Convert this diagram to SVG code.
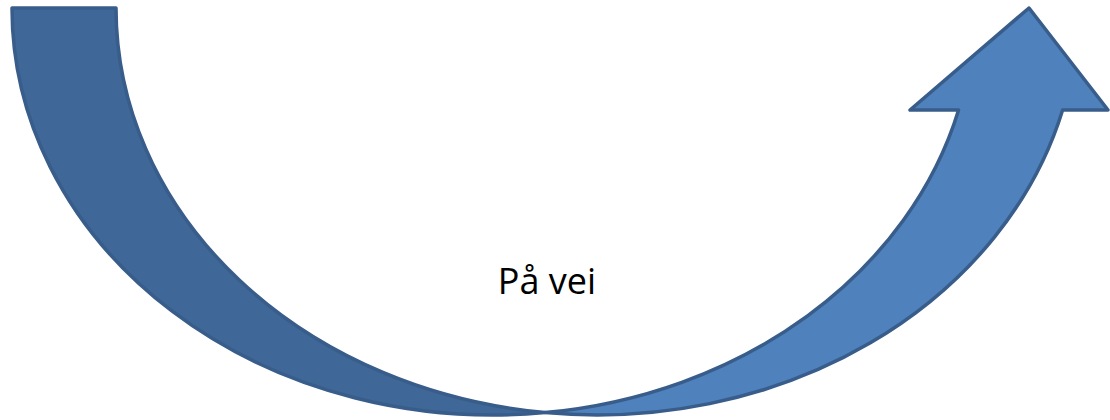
<svg xmlns="http://www.w3.org/2000/svg" width="1110" height="420" viewBox="0 0 1110 420">
  <style>
    .band { stroke: #385d8a; stroke-width: 3.5; stroke-linejoin: round; }
    .back { fill: #3f6797; }
    .front { fill: #4f81bd; }
    .label { font-family: "Open Sans", "Liberation Sans", sans-serif; font-size: 36px; fill: #000000; }
  </style>
  <rect width="1110" height="420" fill="#ffffff"/>
  <g id="curved-arrow">
    <path class="band back" d="M 12 8 A 481 407 0 0 0 545 412.6 A 481 407 0 0 1 116 8 Z"/>
    <path class="band front" d="M 545 412.6 A 481 407 0 0 0 1062.6 110 L 1108 110 L 1029 8 L 910 110 L 958.6 110 A 481 407 0 0 1 545 412.6 Z"/>
  </g>
  <g id="label">
    <text class="label" x="547" y="294" text-anchor="middle">På vei</text>
  </g>
</svg>
